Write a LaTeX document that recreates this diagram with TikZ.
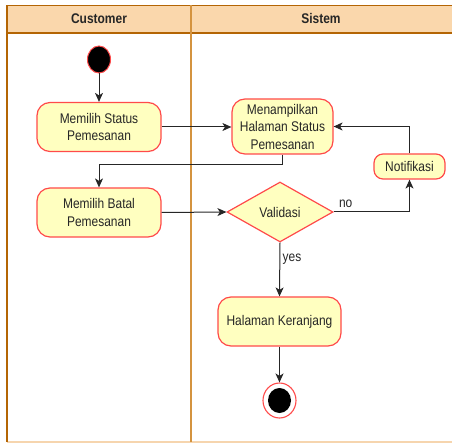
\documentclass[tikz,border=0pt]{standalone}
\usepackage{fontspec}
\setmainfont{Liberation Sans}[FakeStretch=0.855]
\usetikzlibrary{shapes.geometric,arrows.meta}
\definecolor{actfill}{HTML}{FFFFC0}
\definecolor{actline}{HTML}{FF4A4A}
\definecolor{lanehead}{HTML}{FAD7AC}
\definecolor{laneline}{HTML}{B46504}
\definecolor{laneinner}{HTML}{D4933F}
\definecolor{lanebottom}{HTML}{F6D5AE}
\tikzset{
  x=1pt, y=-1pt,
  every node/.style={font=\fontsize{14}{17.5}\selectfont, text=black!85},
  action/.style={draw=actline, fill=actfill, line width=1.2pt, rounded corners=13pt,
    align=center, inner sep=0pt},
  decision/.style={diamond, draw=actline, fill=actfill, line width=1.2pt,
    inner sep=0pt, minimum width=106pt, minimum height=60pt},
  startdot/.style={ellipse, draw=actline, fill=black, line width=1pt,
    minimum width=23pt, minimum height=27pt, inner sep=0pt},
  flow/.style={draw=black!85, line width=1pt, -{Stealth[length=9pt,width=8pt,inset=2.5pt]}},
  lanetitle/.style={font=\fontsize{14}{16}\selectfont\bfseries},
}
\begin{document}
\begin{tikzpicture}
\useasboundingbox (0,0) rectangle (452,443);
% swimlane frame
\fill[lanehead] (7,5.5) rectangle (452,33);
\draw[laneline, line width=1.2pt] (7,5.5) -- (452,5.5);
\draw[laneline, line width=1.2pt] (7,33) -- (452,33);
\draw[lanebottom, line width=1.2pt] (7,442) -- (452,442);
\draw[laneline, line width=1.2pt] (7,5.5) -- (7,442);
\draw[laneinner, line width=1.2pt] (191,5.5) -- (191,442);
\node[lanetitle] (hc) at (99,19) {Customer};
\node[lanetitle] (hs) at (321,19) {Sistem};

% activity nodes
\node[startdot] (start) at (99,59.5) {};
\node[action, minimum width=124pt, minimum height=49pt] (ms) at (99,127) {Memilih Status\\Pemesanan};
\node[action, minimum width=124pt, minimum height=49pt] (mb) at (99,212.5) {Memilih Batal\\Pemesanan};
\node[action, minimum width=101pt, minimum height=55pt] (mhs) at (282.5,126.5) {Menampilkan\\Halaman Status\\Pemesanan};
\node[action, minimum width=71pt, minimum height=25pt, rounded corners=9pt] (nt) at (409.5,166.5) {Notifikasi};
\node[decision] (val) at (280,212) {Validasi};
\node[action, minimum width=123pt, minimum height=49pt] (hk) at (279.5,321.5) {Halaman Keranjang};
\node[ellipse, draw=actline, fill=white, line width=1.1pt, minimum width=33pt, minimum height=35pt, inner sep=0pt] (end) at (279.5,400.5) {};
\node[ellipse, fill=black, minimum width=23pt, minimum height=25pt, inner sep=0pt] (endcore) at (279.5,400.5) {};

% control flow
\draw[flow] (start) -- (ms);
\draw[flow] (ms.east) -- (ms.east -| mhs.west);
\draw[flow] (mhs.south) -- ++(0,10) -| (mb.north);
\draw[flow] (mb.east) -- (val.west);
\draw[flow] (val.east) -| node[pos=0.08, above, yshift=1pt] {no} (nt.south);
\draw[flow] (nt.north) |- (mhs.east);
\draw[flow] (val.south) -- node[pos=0.3, right, xshift=-1pt] {yes} (hk.north);
\draw[flow] (hk.south) -- (end.north);
\end{tikzpicture}
\end{document}
